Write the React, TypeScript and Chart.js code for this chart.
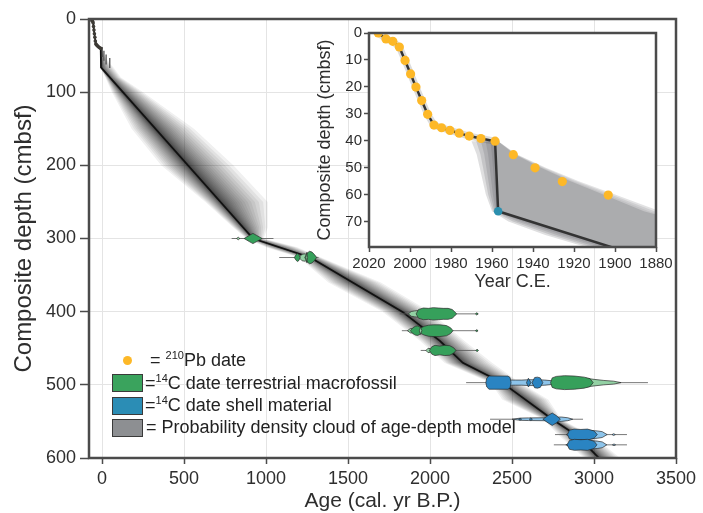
import React, { useEffect, useRef } from 'react';
import { Chart, registerables } from 'chart.js';

Chart.register(...registerables);

const FONT = "'Liberation Sans', Arial, Helvetica, sans-serif";

// ---------- axes ----------
const mainXTicks = [0, 500, 1000, 1500, 2000, 2500, 3000, 3500];
const mainYTicks = [0, 100, 200, 300, 400, 500, 600];
const insetXTicks = [2020, 2000, 1980, 1960, 1940, 1920, 1900, 1880];
const insetYTicks = [0, 10, 20, 30, 40, 50, 60, 70];

// ---------- main age-depth model (cal. yr BP vs depth) ----------
const medianDepth = [0, 5.2, 10.2, 30.2, 34.2, 40.2, 66.2, 300, 326, 400, 440, 470, 497, 547, 570, 600];
const medianAge = [-65.5, -55.2, -52.4, -41.4, -38.3, -8.5, -7, 920, 1270, 1830, 2060, 2200, 2440, 2745, 2900, 3030];

const cloudDepth = [40, 50, 60, 67, 80, 100, 150, 200, 250, 285, 300, 312, 326, 360, 400, 440, 470, 497, 520, 547, 570, 600];
const cloudMid = [-8, -7.7, -7.4, -7, 45, 124, 323, 522, 721, 860, 920, 1080, 1270, 1528, 1830, 2060, 2200, 2440, 2580, 2745, 2900, 3030];
const cloudLo = [-16, -14, -12, -10, 20, 60, 180, 360, 630, 800, 880, 1000, 1200, 1380, 1710, 1940, 2090, 2370, 2440, 2690, 2790, 2940];
const cloudHi = [-6, 15, 45, 72, 115, 250, 560, 800, 1010, 1010, 985, 1190, 1335, 1700, 2000, 2210, 2380, 2550, 2720, 2800, 2990, 3160];

// ---------- calibrated 14C dates (violin pieces) ----------
const pieceDepth = [
  300, 300,
  326, 326, 326, 326,
  403, 403, 403,
  426, 426, 426, 426,
  453, 453, 453,
  497, 497, 497, 497, 497, 497,
  547, 547, 547, 547,
  568, 568, 568,
  582, 582, 582,
];
const pieceTone = [
  'gl', 'g',
  'gl', 'g', 'g', 'gl',
  'gl', 'g', 'g',
  'gl', 'g', 'gl', 'g',
  'gl', 'g', 'g',
  'bl', 'b', 'b', 'b', 'gl', 'g',
  'bl', 'b', 'b', 'b',
  'bl', 'b', 'bl',
  'bl', 'b', 'bl',
];
const pieceAges = [
  [820, 830, 840], [866, 900, 920, 940, 976],
  [1200, 1220, 1240, 1262], [1172, 1184, 1192, 1200, 1208], [1236, 1250, 1265, 1280, 1295, 1308], [1243, 1248, 1253],
  [1868, 1885, 1905, 1925, 1940], [1915, 1930, 1960, 1990, 2020, 2050, 2080, 2110, 2135, 2150, 2162], [2277, 2285, 2293],
  [1862, 1880, 1900, 1918], [1880, 1895, 1910, 1925, 1945, 1965, 1990, 2020, 2060, 2100, 2125, 2140], [1935, 1942, 1950], [2277, 2285, 2293],
  [1975, 1988, 2000, 2008], [1996, 2010, 2030, 2060, 2090, 2120, 2145, 2158], [2280, 2287, 2294],
  [2488, 2520, 2560, 2600, 2640, 2700, 2745], [2340, 2346, 2360, 2420, 2475, 2488, 2494], [2588, 2600, 2615], [2622, 2638, 2655, 2672, 2688],
  [2950, 3000, 3060, 3120, 3165], [2735, 2745, 2770, 2820, 2880, 2940, 2975, 2995],
  [2500, 2550, 2600, 2690, 2800, 2840, 2870], [2540, 2549, 2558], [2606, 2615, 2624], [2688, 2720, 2745, 2770, 2795],
  [2830, 2880, 2960, 3020, 3050, 3080], [2838, 2850, 2880, 2920, 2960, 3000, 3020], [3110, 3120, 3130],
  [2828, 2880, 2960, 3020, 3050, 3078], [2836, 2850, 2880, 2920, 2960, 3000, 3018], [3112, 3122, 3132],
];
const pieceHalf = [
  [0, 1.8, 0], [0, 4.5, 7, 4.5, 0],
  [0, 4.5, 5, 0], [0, 4, 5.5, 4, 0], [0, 6, 8.5, 7.5, 4, 0], [0, 7, 0],
  [0, 3.2, 4, 4.5, 0], [0, 6, 8, 7.5, 8.5, 8, 7.5, 7.5, 6, 3, 0], [0, 1.6, 0],
  [0, 3, 3.2, 0], [0, 4, 6, 6.5, 4, 6, 7.5, 8, 8, 7, 4, 0], [0, 5, 0], [0, 1.4, 0],
  [0, 3, 2.5, 0], [0, 5, 7, 6, 7, 6.5, 3.5, 0], [0, 1.8, 0],
  [3.5, 3.5, 3.5, 4, 4, 3.5, 2.5], [0, 6, 9, 9, 9, 7, 0], [0, 6, 0], [0, 7, 7.5, 6.5, 0],
  [6, 4.5, 3, 2, 0], [0, 6.5, 8.5, 9.5, 9, 7.5, 5.5, 0],
  [0, 1.5, 1.8, 2, 3, 2, 0], [0, 1.4, 0], [0, 1.8, 0], [0, 5, 8.5, 5, 0],
  [0, 5.5, 6, 5, 4, 0], [0, 6, 7.5, 7, 7.5, 5, 0], [0, 1.2, 0],
  [0, 5.5, 6, 5, 4, 0], [0, 6, 7.5, 7, 7.5, 5, 0], [0, 1.2, 0],
];
const whiskerDepth = [300, 326, 403, 426, 453, 497, 547, 568, 582];
const whiskerFrom = [790, 1080, 1815, 1828, 1943, 2220, 2366, 2762, 2755];
const whiskerTo = [1045, 1320, 2295, 2290, 2295, 3329, 2933, 3201, 3201];

// ---------- inset: 210Pb chronology (Year C.E.) ----------
const pbYear = [2015.5, 2011.7, 2008.4, 2005.2, 2002.4, 1999.7, 1997.1, 1994.3, 1991.4, 1988.3, 1984.6, 1980.5, 1976.0, 1971.1, 1965.4, 1958.5, 1949.6, 1939.0, 1925.7, 1903.3];
const pbDepth = [0, 2.2, 3.1, 5.2, 10.2, 15.2, 20.1, 25.1, 30.2, 34.2, 35.2, 36.2, 37.2, 38.3, 39.2, 40.2, 45.2, 50.1, 55.2, 60.2];
const shellYear = [1957];
const shellDepth = [66.2];
const insetLineYear = [2015.5, 2011.7, 2008.4, 2005.2, 2002.4, 1999.7, 1997.1, 1994.3, 1991.4, 1988.3, 1984.6, 1980.5, 1976.0, 1971.1, 1965.4, 1958.5, 1957, 1880];
const insetLineDepth = [0, 2.2, 3.1, 5.2, 10.2, 15.2, 20.1, 25.1, 30.2, 34.2, 35.2, 36.2, 37.2, 38.3, 39.2, 40.2, 66.2, 84.8];
const insetCloudDepth = [40.2, 45, 50, 55, 60, 66.2, 70, 75, 80, 86];
const insetCloudMid = [1958.5, 1958.2, 1957.9, 1957.6, 1957.3, 1957, 1941, 1920, 1899, 1874];
const insetCloudYoung = [1970, 1967.5, 1966, 1964.5, 1963, 1960, 1952, 1934, 1912, 1886];
const insetCloudOld = [1957, 1948, 1934, 1918, 1900, 1878, 1860, 1860, 1860, 1860];

const BP_ZERO = 1950;

const TONES: Record<string, string> = {
  g: '#36a05b',
  gl: '#93d1a4',
  b: '#2a84c2',
  bl: '#8dc4ea',
};

function band(depths: number[], mid: number[], lo: number[], hi: number[], tLo: number, tHi: number) {
  const pts: { x: number; y: number }[] = [];
  for (let i = 0; i < depths.length; i++) pts.push({ x: mid[i] + tLo * (lo[i] - mid[i]), y: depths[i] });
  for (let i = depths.length - 1; i >= 0; i--) pts.push({ x: mid[i] + tHi * (hi[i] - mid[i]), y: depths[i] });
  return pts;
}

function violin(depth: number, ages: number[], half: number[]) {
  const pts = ages.map((a, i) => ({ x: a, y: depth - half[i] }));
  for (let i = ages.length - 1; i >= 0; i--) pts.push({ x: ages[i], y: depth + half[i] });
  return pts;
}

function shape(data: any[], color: string, order: number, border = 'rgba(0,0,0,0)', bw = 0) {
  return {
    data,
    fill: 'shape',
    backgroundColor: color,
    borderColor: border,
    borderWidth: bw,
    pointRadius: 0,
    tension: 0,
    order,
  };
}

const framePlugin = {
  id: 'frame',
  beforeDraw(chart: any, _a: any, opts: any) {
    if (opts && opts.fill) {
      const { ctx, chartArea: c } = chart;
      ctx.save();
      ctx.fillStyle = opts.fill;
      ctx.fillRect(c.left, c.top, c.right - c.left, c.bottom - c.top);
      ctx.restore();
    }
  },
  afterDraw(chart: any) {
    const { ctx, chartArea: c } = chart;
    ctx.save();
    ctx.strokeStyle = '#4b4b4b';
    ctx.lineWidth = 2.5;
    ctx.strokeRect(c.left, c.top, c.right - c.left, c.bottom - c.top);
    ctx.restore();
  },
};

function fixedTicks(values: number[]) {
  return (axis: any) => {
    axis.ticks = [...values].sort((a, b) => a - b).map((v) => ({ value: v }));
  };
}
const plainLabel = (v: any) => String(v);

function mainConfig(): any {
  const datasets: any[] = [];
  const K = 30;
  for (let i = 0; i < K; i++) {
    const t = Math.pow((i + 1) / K, 3);
    datasets.push(shape(band(cloudDepth, cloudMid, cloudLo, cloudHi, t, t), 'rgba(12,12,12,0.062)', 5000 + i));
  }
  datasets.push({
    data: medianDepth.map((d, i) => ({ x: medianAge[i], y: d })),
    borderColor: '#111',
    borderWidth: 1.7,
    fill: false,
    pointRadius: 0,
    order: 3000,
  });
  whiskerDepth.forEach((d, i) => {
    datasets.push({
      data: [{ x: whiskerFrom[i], y: d }, { x: whiskerTo[i], y: d }],
      borderColor: '#555',
      borderWidth: 0.8,
      fill: false,
      pointRadius: 0,
      order: 2000,
    });
  });
  pieceDepth.forEach((d, i) => {
    datasets.push(shape(violin(d, pieceAges[i], pieceHalf[i]), TONES[pieceTone[i]], 1000 - i, '#2d2d2d', 0.7));
  });
  // 210Pb dates in the main panel
  datasets.push({
    data: pbYear.map((y, i) => ({ x: BP_ZERO - y, y: pbDepth[i] })).filter((p) => p.y < 42),
    showLine: false,
    pointRadius: 1.8,
    pointBackgroundColor: '#3d3a35',
    pointBorderWidth: 0,
    order: 500,
  });
  datasets.push({
    data: pbYear.map((y, i) => ({ x: BP_ZERO - y, y: pbDepth[i] })).filter((p) => p.y >= 42),
    showLine: false,
    pointStyle: 'line',
    rotation: 90,
    pointRadius: 5,
    pointBorderColor: '#444',
    pointBorderWidth: 1.2,
    order: 500,
  });

  return {
    type: 'line',
    data: { datasets },
    plugins: [framePlugin],
    options: {
      animation: false,
      responsive: true,
      maintainAspectRatio: false,
      indexAxis: 'y',
      events: [],
      layout: { padding: { top: 19, right: 27, left: 0, bottom: 0 } },
      plugins: { legend: { display: false }, tooltip: { enabled: false }, frame: {} },
      scales: {
        x: {
          type: 'linear',
          min: -80,
          max: 3500,
          afterBuildTicks: fixedTicks(mainXTicks),
          afterFit: (s: any) => { s.height = 55; },
          border: { display: false },
          grid: { color: '#e4e4e4', lineWidth: 1, tickColor: '#4b4b4b', tickLength: 6, tickWidth: 1.5 },
          ticks: { font: { size: 18, family: FONT }, color: '#2e2e2e', padding: 4, maxRotation: 0, callback: plainLabel },
          title: { display: true, text: 'Age (cal. yr B.P.)', font: { size: 21, family: FONT }, color: '#2e2e2e', padding: { top: 0, bottom: -1 } },
        },
        y: {
          type: 'linear',
          min: 0,
          max: 600,
          reverse: true,
          afterBuildTicks: fixedTicks(mainYTicks),
          afterFit: (s: any) => { s.width = 89; },
          border: { display: false },
          grid: { color: '#e4e4e4', lineWidth: 1, tickColor: '#4b4b4b', tickLength: 9, tickWidth: 1.5 },
          ticks: { font: { size: 18, family: FONT }, color: '#2e2e2e', padding: 4, callback: plainLabel },
          title: { display: true, text: 'Composite depth (cmbsf)', font: { size: 24, family: FONT }, color: '#2e2e2e', padding: { top: 10, bottom: 0 } },
        },
      },
    },
  };
}

function insetConfig(): any {
  const datasets: any[] = [];
  // gray body on the old side
  datasets.push(shape(band(insetCloudDepth, insetCloudMid, insetCloudYoung, insetCloudOld, 0, 0.9), '#abacae', 300));
  [0.93, 0.965, 1.0].forEach((t, i) => {
    datasets.push(shape(band(insetCloudDepth, insetCloudMid, insetCloudYoung, insetCloudOld, 0, t), 'rgba(171,172,174,0.35)', 310 + i));
  });
  // darker shading on the young side
  [0.2, 0.4, 0.6, 0.8, 1.0].forEach((t, i) => {
    datasets.push(shape(band(insetCloudDepth, insetCloudMid, insetCloudYoung, insetCloudOld, t, 0), 'rgba(95,95,98,0.2)', 200 + i));
  });
  // halo + line
  datasets.push({
    data: insetLineYear.slice(0, 16).map((y, i) => ({ x: y, y: insetLineDepth[i] })),
    borderColor: 'rgba(60,60,60,0.18)',
    borderWidth: 7,
    fill: false,
    pointRadius: 0,
    order: 60,
  });
  datasets.push({
    data: insetLineYear.map((y, i) => ({ x: y, y: insetLineDepth[i] })),
    borderColor: '#333',
    borderWidth: 2.5,
    fill: false,
    pointRadius: 0,
    order: 50,
  });
  datasets.push({
    data: pbYear.map((y, i) => ({ x: y, y: pbDepth[i] })),
    showLine: false,
    pointRadius: 4.6,
    pointBackgroundColor: '#fdb827',
    pointBorderWidth: 0,
    order: 10,
  });
  datasets.push({
    data: shellYear.map((y, i) => ({ x: y, y: shellDepth[i] })),
    showLine: false,
    pointRadius: 4.3,
    pointBackgroundColor: '#2b8fae',
    pointBorderWidth: 0,
    order: 9,
  });

  return {
    type: 'line',
    data: { datasets },
    plugins: [framePlugin],
    options: {
      animation: false,
      responsive: true,
      maintainAspectRatio: false,
      indexAxis: 'y',
      events: [],
      layout: { padding: { top: 14, right: 16, left: 0, bottom: 0 } },
      plugins: { legend: { display: false }, tooltip: { enabled: false }, frame: { fill: '#ffffff' } },
      scales: {
        x: {
          type: 'linear',
          min: 1880,
          max: 2020,
          reverse: true,
          afterBuildTicks: fixedTicks(insetXTicks),
          afterFit: (s: any) => { s.height = 52; },
          border: { display: false },
          grid: { drawOnChartArea: false, tickColor: '#4b4b4b', tickLength: 5, tickWidth: 1.5 },
          ticks: { font: { size: 15, family: FONT }, color: '#2e2e2e', padding: 3, maxRotation: 0, autoSkip: false, callback: plainLabel },
          title: { display: true, text: 'Year C.E.', font: { size: 18, family: FONT }, color: '#2e2e2e', padding: { top: 0, bottom: 6 } },
        },
        y: {
          type: 'linear',
          min: 0,
          max: 79.5,
          reverse: true,
          afterBuildTicks: fixedTicks(insetYTicks),
          afterFit: (s: any) => { s.width = 69; },
          border: { display: false },
          grid: { drawOnChartArea: false, tickColor: '#4b4b4b', tickLength: 5, tickWidth: 1.5 },
          ticks: { font: { size: 15, family: FONT }, color: '#2e2e2e', padding: 2, autoSkip: false, callback: plainLabel },
          title: { display: true, text: 'Composite depth (cmbsf)', font: { size: 18, family: FONT }, color: '#2e2e2e', padding: { top: 14, bottom: 0 } },
        },
      },
    },
  };
}

const legendText: React.CSSProperties = {
  position: 'absolute',
  height: 22,
  lineHeight: '22px',
  fontSize: 18,
  color: '#222',
  whiteSpace: 'nowrap',
  fontFamily: FONT,
};
const supStyle: React.CSSProperties = { fontSize: 11, lineHeight: 0, verticalAlign: 7 };
const swatch = (top: number, color: string): React.CSSProperties => ({
  position: 'absolute',
  left: 112,
  top,
  width: 31,
  height: 18,
  background: color,
  border: '1.5px solid #3a3a3a',
  boxSizing: 'border-box',
});

export default function App() {
  const mainRef = useRef<HTMLCanvasElement>(null);
  const insetRef = useRef<HTMLCanvasElement>(null);

  useEffect(() => {
    Chart.defaults.font.family = FONT;
    const main = new Chart(mainRef.current as HTMLCanvasElement, mainConfig());
    const inset = new Chart(insetRef.current as HTMLCanvasElement, insetConfig());
    return () => {
      main.destroy();
      inset.destroy();
    };
  }, []);

  return (
    <div style={{ position: 'absolute', left: 0, top: 0, width: 703, height: 513, background: '#fff', overflow: 'hidden' }}>
      <div style={{ position: 'absolute', left: 0, top: 0, width: 703, height: 513 }}>
        <canvas ref={mainRef} />
      </div>
      <div style={{ position: 'absolute', left: 300, top: 19, width: 372, height: 280 }}>
        <canvas ref={insetRef} />
      </div>
      {/* legend */}
      <div style={{ position: 'absolute', left: 122.5, top: 355.5, width: 9.5, height: 9.5, borderRadius: '50%', background: '#fdb827' }} />
      <div style={{ ...legendText, left: 150, top: 349 }}>
        = <sup style={supStyle}>210</sup>Pb date
      </div>
      <div style={swatch(374, '#3aa35d')} />
      <div style={{ ...legendText, left: 145, top: 372 }}>
        =<sup style={supStyle}>14</sup>C date terrestrial macrofossil
      </div>
      <div style={swatch(396.5, '#2b8db5')} />
      <div style={{ ...legendText, left: 145, top: 394 }}>
        =<sup style={supStyle}>14</sup>C date shell material
      </div>
      <div style={swatch(418.5, '#8d8f92')} />
      <div style={{ ...legendText, left: 146, top: 416 }}>
        = Probability density cloud of age-depth model
      </div>
    </div>
  );
}
